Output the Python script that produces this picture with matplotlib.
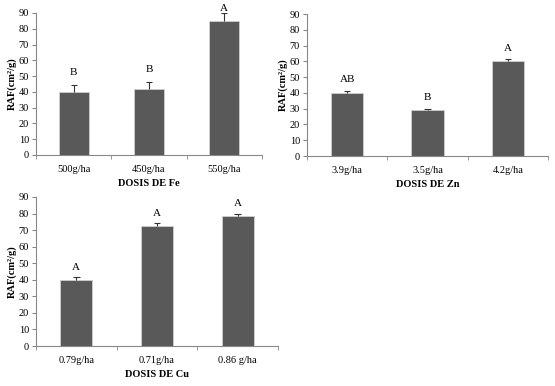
import numpy as np
import matplotlib.pyplot as plt

plt.rcParams['font.family'] = ['Liberation Serif', 'DejaVu Serif']

# datos
fe_labels = ["500g/ha", "450g/ha", "550g/ha"]
fe_raf = [40, 42, 85]
fe_err = [4.5, 4.5, 5]
fe_letras = ["B", "B", "A"]

zn_labels = ["3.9g/ha", "3.5g/ha", "4.2g/ha"]
zn_raf = [40, 29, 60]
zn_err = [1.5, 1, 1.5]
zn_letras = ["AB", "B", "A"]

cu_labels = ["0.79g/ha", "0.71g/ha", "0.86 g/ha"]
cu_raf = [40, 72.5, 78.5]
cu_err = [1.5, 1.5, 1.5]
cu_letras = ["A", "A", "A"]

fig = plt.figure(figsize=(5.55, 3.86), dpi=100)

def panel(rect, labels, vals, errs, letras, xlabel, off):
    ax = fig.add_axes(rect)
    x = np.arange(len(vals))
    vals = np.array(vals)
    errs = np.array(errs)
    ax.bar(x, vals, width=0.4, color='#595959', edgecolor='#cfcfcf', linewidth=0.6)
    # barra de error solo hacia arriba
    ax.vlines(x, vals, vals + errs, color='#333333', linewidth=0.8)
    ax.hlines(vals + errs, x - 0.04, x + 0.04, color='#333333', linewidth=0.8)
    for xi, v, e, l in zip(x, vals, errs, letras):
        ax.text(xi, min(v + e + off, 90), l, ha='center', va='bottom', fontsize=8, clip_on=False)
    ax.set_xlim(-0.5, len(vals) - 0.5)
    ax.set_ylim(0, 90)
    ax.set_yticks(range(0, 91, 10))
    ax.set_xticks(x)
    ax.set_xticklabels(labels)
    ax.set_xticks(np.arange(-0.5, len(vals)), minor=True)
    ax.tick_params(axis='x', which='major', length=0, labelsize=7.5, pad=7)
    ax.tick_params(axis='x', which='minor', length=3, color='#888888')
    ax.tick_params(axis='y', length=3, color='#888888', labelsize=7.5, pad=2)
    for s in ['top', 'right']:
        ax.spines[s].set_visible(False)
    for s in ['left', 'bottom']:
        ax.spines[s].set_color('#888888')
        ax.spines[s].set_linewidth(0.8)
    ax.set_xlabel(xlabel, fontsize=7.5, fontweight='bold', labelpad=4)
    ax.set_ylabel("RAF(cm²/g)", fontsize=7.5, fontweight='bold', labelpad=1)
    return ax

panel([36/555, 1 - 155/386, 226/555, 142/386], fe_labels, fe_raf, fe_err, fe_letras, "DOSIS DE Fe", 5)
panel([307/555, 1 - 156/386, 241/555, 142/386], zn_labels, zn_raf, zn_err, zn_letras, "DOSIS DE Zn", 4)
panel([36/555, 1 - 346/386, 242/555, 149/386], cu_labels, cu_raf, cu_err, cu_letras, "DOSIS DE Cu", 3.5)

fig.savefig("out.png", dpi=100)
